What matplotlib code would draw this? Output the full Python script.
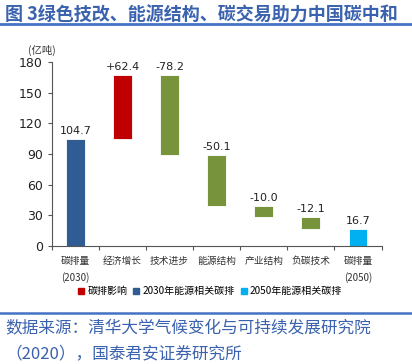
import matplotlib.pyplot as plt
from matplotlib.lines import Line2D
from matplotlib.patches import Patch

plt.rcParams['font.family'] = ['Noto Sans CJK SC', 'DejaVu Sans']

# data
categories = ["碳排量\n(2030)", "经济增长", "技术进步", "能源结构", "产业结构", "负碳技术", "碳排量\n(2050)"]
changes = [104.7, 62.4, -78.2, -50.1, -10.0, -12.1, 16.7]
labels = ["104.7", "+62.4", "-78.2", "-50.1", "-10.0", "-12.1", "16.7"]
kinds = ["2030", "up", "down", "down", "down", "down", "2050"]

colors = {"2030": "#2F5D93", "up": "#C00000", "down": "#77933C", "2050": "#00B0F0"}
blue_text = "#3A62AE"
narrow = ["Liberation Sans Narrow", "DejaVu Sans"]

fig = plt.figure(figsize=(4.12, 3.64), dpi=100)
ax = fig.add_axes([0.126, 0.324, 0.80, 0.506])

# build waterfall bottoms
bottoms = []
heights = []
level = 0
for c, k in zip(changes, kinds):
    if k in ("2030", "2050"):
        bottoms.append(0)
        heights.append(c)
        level = c
    else:
        new = level + c
        bottoms.append(min(level, new))
        heights.append(abs(c))
        level = new

x = list(range(len(categories)))
ax.bar(x, heights, bottom=bottoms, width=0.4,
       color=[colors[k] for k in kinds], edgecolor="white", linewidth=0.6)

for xi, b, h, t in zip(x, bottoms, heights, labels):
    ax.text(xi, b + h + 3, t, ha="center", va="bottom", fontsize=8, color="#222222",
            family=narrow)

ax.set_ylim(0, 180)
ax.set_xlim(-0.5, 6.5)
ax.set_yticks(range(0, 181, 30))
for lab in ax.get_yticklabels():
    lab.set_family(narrow)
ax.tick_params(axis="y", labelsize=9, length=3, color="#555555", labelcolor="#222222")
ax.set_xticks([i + 0.5 for i in range(-1, 7)])
ax.set_xticklabels([])
ax.tick_params(axis="x", length=3, direction="out", color="#555555")
for xi, cat in zip(x, categories):
    ax.text(xi, -10, cat, ha="center", va="top", fontsize=7, color="#333333", linespacing=1.6)

for s in ["top", "right"]:
    ax.spines[s].set_visible(False)
for s in ["left", "bottom"]:
    ax.spines[s].set_color("#555555")
    ax.spines[s].set_linewidth(0.8)

ax.text(-1.0, 186, "(亿吨)", fontsize=7.5, color="#333333", va="bottom", ha="left")

handles = [Patch(color=colors["up"], label="碳排影响"),
           Patch(color=colors["2030"], label="2030年能源相关碳排"),
           Patch(color=colors["2050"], label="2050年能源相关碳排")]
fig.legend(handles=handles, loc="center", bbox_to_anchor=(0.51, 0.200), ncol=3, frameon=False,
           fontsize=7.2, handlelength=0.6, handleheight=0.6, handletextpad=0.3, columnspacing=0.6)

# title and footer
fig.text(0.012, 0.958, "图 3绿色技改、能源结构、碳交易助力中国碳中和", fontsize=13, fontweight="bold",
         color=blue_text, va="center", ha="left")
fig.add_artist(Line2D([0, 1], [0.934, 0.934], color="#4472C4", linewidth=2, transform=fig.transFigure))
fig.add_artist(Line2D([0, 1], [0.14, 0.14], color="#4472C4", linewidth=1.8, transform=fig.transFigure))
fig.text(0.012, 0.098, "数据来源：清华大学气候变化与可持续发展研究院", fontsize=12,
         color=blue_text, va="center", ha="left")
fig.text(0.012, 0.028, "（2020），国泰君安证券研究所", fontsize=12,
         color=blue_text, va="center", ha="left")

fig.savefig("out.png", dpi=100)
